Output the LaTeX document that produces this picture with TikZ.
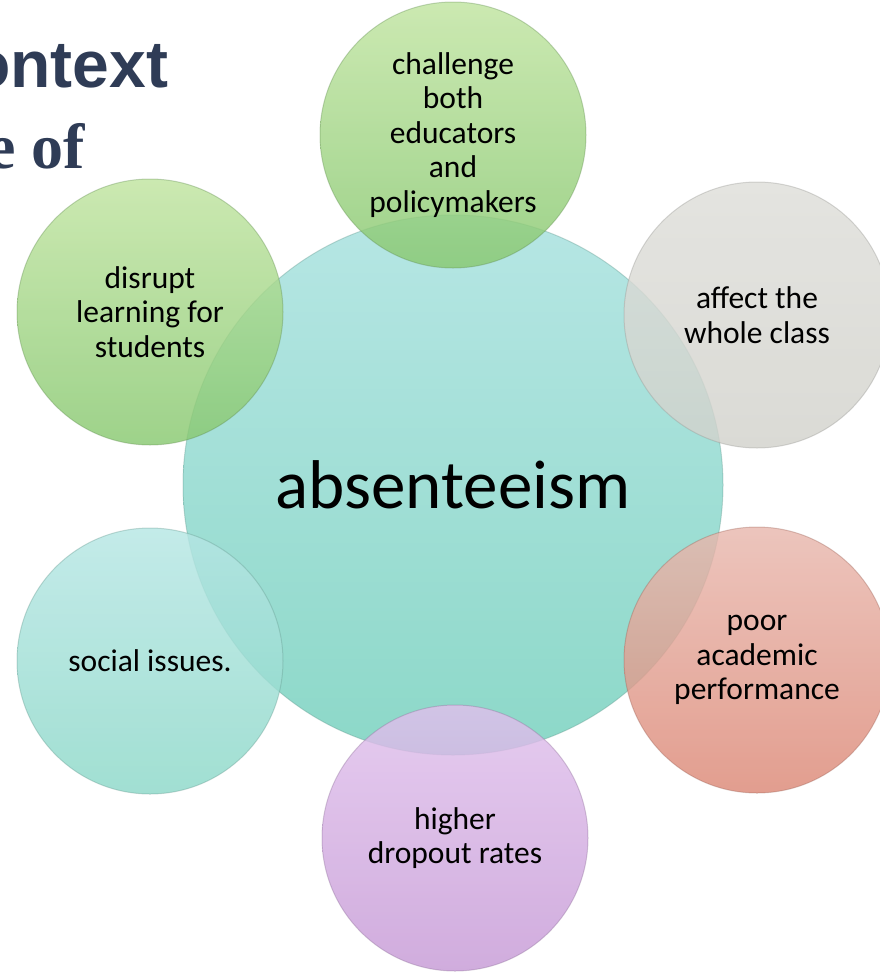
\documentclass[tikz,border=0pt]{standalone}
\usepackage{fontspec}
\setmainfont{Carlito}
\newfontfamily\headsans{Liberation Sans}
\newfontfamily\headserif{Liberation Serif}

\definecolor{headnavy}{RGB}{47,60,86}
\definecolor{tealtop}{RGB}{182,230,228}
\definecolor{tealbot}{RGB}{140,216,200}
\definecolor{greentop}{RGB}{192,228,160}
\definecolor{greenbot}{RGB}{136,200,112}
\definecolor{greytop}{RGB}{222,222,217}
\definecolor{greybot}{RGB}{210,210,204}
\definecolor{salmontop}{RGB}{232,184,174}
\definecolor{salmonbot}{RGB}{220,136,118}
\definecolor{purpletop}{RGB}{224,192,236}
\definecolor{purplebot}{RGB}{198,154,214}

\begin{document}
\begin{tikzpicture}[
    x=1pt, y=-1pt,
    every node/.style={circle, align=center, text=black, font=\fontsize{31.5}{34.5}\selectfont},
    ball/.style 2 args={top color=#1, bottom color=#2, draw=#2!70!black, draw opacity=0.35, line width=1pt},
    bubble/.style={minimum size=266pt, fill opacity=0.82, text opacity=1},
    headline/.style={rectangle, anchor=base west, inner sep=0pt, text=headnavy}
]
\useasboundingbox (0,0) rectangle (879,972);
% heading, cut off at the left
\node[headline, font=\headsans\bfseries\fontsize{66}{68}\selectfont] (headA) at (-30,87) {ontext};
\node[headline, font=\headserif\bfseries\fontsize{64}{66}\selectfont] (headB) at (-13,168) {e of};
% centre
\node[ball={tealtop}{tealbot}, minimum size=540pt, font=\fontsize{69}{72}\selectfont] (abs) at (453,485) {absenteeism};
% satellites
\node[bubble, ball={greentop}{greenbot}] (challenge) at (453,135) {challenge\\both\\educators\\and\\policymakers};
\node[bubble, ball={greytop}{greybot}] (affect) at (757,315) {affect the\\whole class};
\node[bubble, ball={salmontop}{salmonbot}] (poor) at (757,660) {poor\\academic\\performance};
\node[bubble, ball={purpletop}{purplebot}] (dropout) at (455,838) {higher\\dropout rates};
\node[bubble, ball={tealtop}{tealbot}] (social) at (150,661) {social issues.};
\node[bubble, ball={greentop}{greenbot}] (disrupt) at (150,312) {disrupt\\learning for\\students};
\end{tikzpicture}
\end{document}
